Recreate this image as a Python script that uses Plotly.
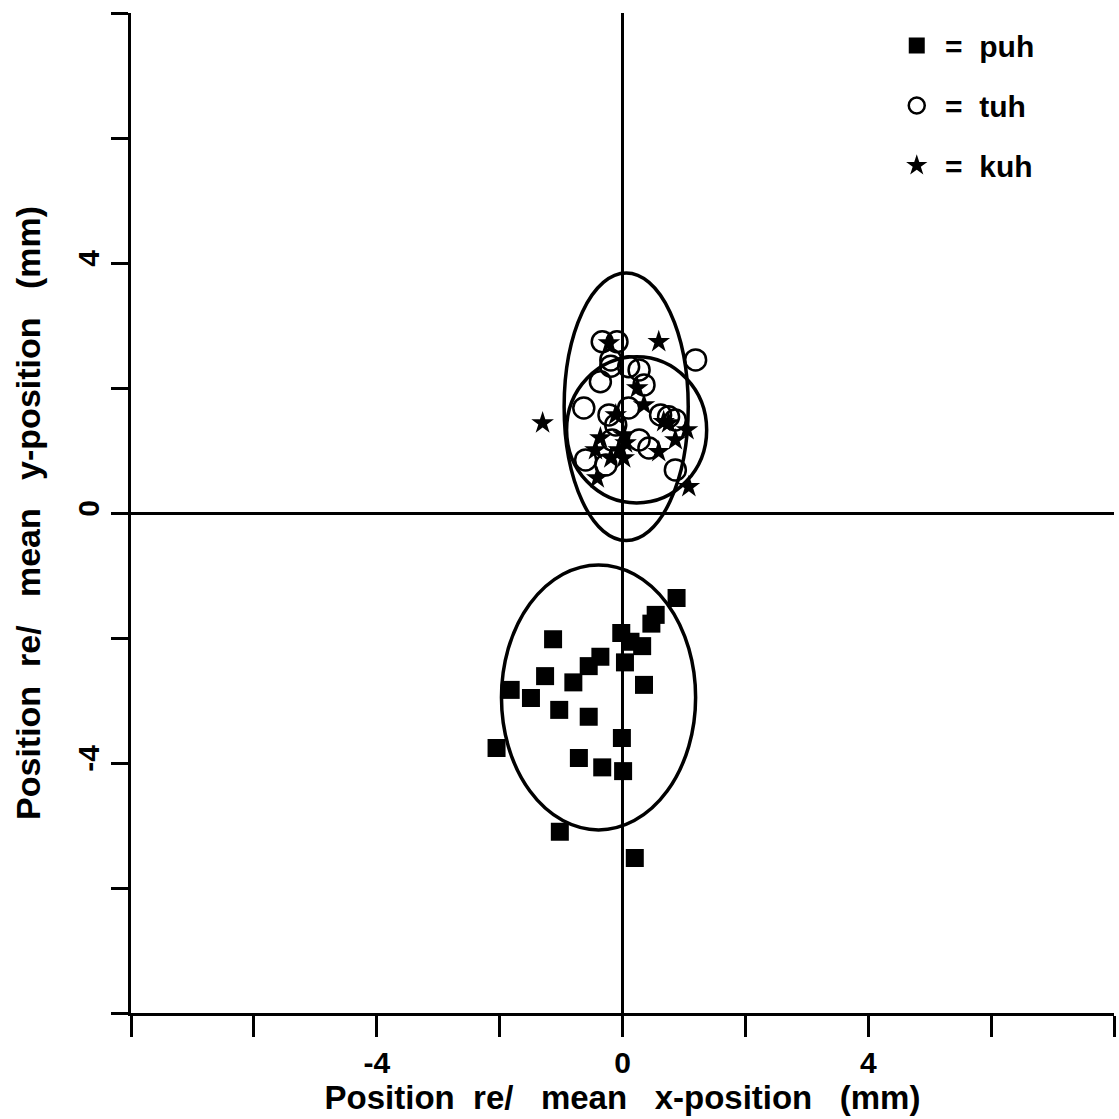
import plotly.graph_objects as go

# ---- data ----
puh_x = [0.88, 0.54, 0.47, -1.13, -0.02, 0.13, 0.32, -0.36, -0.55, 0.04, -1.26, -0.80,
         -1.82, -1.49, 0.35, -1.03, -0.55, -0.01, -2.05, -0.71, -0.33, 0.01, -1.02, 0.20]
puh_y = [-1.36, -1.63, -1.77, -2.02, -1.92, -2.06, -2.13, -2.30, -2.45, -2.39, -2.61, -2.71,
         -2.83, -2.96, -2.75, -3.15, -3.26, -3.60, -3.76, -3.92, -4.07, -4.13, -5.10, -5.52]

tuh_x = [-0.33, -0.09, -0.19, -0.19, 1.19, 0.10, 0.27, -0.36, 0.35, -0.63, -0.22, 0.10,
         0.62, 0.75, 0.86, -0.17, 0.27, 0.43, -0.60, -0.27, 0.86, -0.11]
tuh_y = [2.74, 2.74, 2.45, 2.35, 2.45, 2.34, 2.29, 2.10, 2.05, 1.68, 1.57, 1.68,
         1.57, 1.54, 1.49, 1.17, 1.17, 1.04, 0.85, 0.77, 0.69, 1.41]

kuh_x = [-0.22, 0.59, 0.24, -1.30, -0.11, 0.35, 0.67, 0.75, 1.05, 0.86, -0.36, 0.02,
         0.05, -0.06, 0.59, -0.44, -0.19, -0.41, 1.08, 0.02]
kuh_y = [2.72, 2.74, 2.00, 1.44, 1.57, 1.73, 1.46, 1.44, 1.33, 1.17, 1.20, 1.25,
         1.12, 1.01, 0.98, 1.01, 0.88, 0.56, 0.42, 0.88]

# ellipses: centre and semi-axes (mm)
ell_cx = [-0.39, 0.06, 0.23]
ell_cy = [-2.95, 1.70, 1.33]
ell_rx = [1.58, 1.01, 1.14]
ell_ry = [2.12, 2.14, 1.17]

tick_vals = [-8, -6, -4, -2, 0, 2, 4, 6, 8]
tick_text = ["", "", "-4", "", "0", "", "4", "", ""]

NB = "\u00a0"
G2 = NB * 2
G3 = NB * 3
x_title = f"Position{G2}re/{G3}mean{G3}x-position{G3}(mm)"
y_title = f"Position{G2}re/{G3}mean{G3}y-position{G3}(mm)"

FONT = "Liberation Sans, Arial, Helvetica, sans-serif"

fig = go.Figure()

fig.add_trace(go.Scatter(
    x=puh_x, y=puh_y, mode="markers", name=f"{NB}={G2}puh", legendgroup="a",
    marker=dict(symbol="square", size=18, color="black", line=dict(width=0)),
))
fig.add_trace(go.Scatter(
    x=tuh_x, y=tuh_y, mode="markers", name=f"{NB}={G2}tuh", legendgroup="b",
    marker=dict(symbol="circle-open", size=21, color="black", line=dict(width=2.5, color="black")),
))
fig.add_trace(go.Scatter(
    x=kuh_x, y=kuh_y, mode="markers", name=f"{NB}={G2}kuh", legendgroup="c",
    marker=dict(symbol="star", size=17, color="black", line=dict(width=0)),
))

for cx, cy, rx, ry in zip(ell_cx, ell_cy, ell_rx, ell_ry):
    fig.add_shape(type="circle", xref="x", yref="y",
                  x0=cx - rx, x1=cx + rx, y0=cy - ry, y1=cy + ry,
                  line=dict(color="black", width=3.5), layer="below")

fig.update_layout(
    width=1119, height=1119,
    margin=dict(l=131, r=5, t=13, b=106),
    paper_bgcolor="white", plot_bgcolor="white",
    font=dict(family=FONT, color="black", size=30, weight="bold"),
    showlegend=True,
    legend=dict(x=0.779, y=0.9935, xanchor="left", yanchor="top",
                bgcolor="rgba(0,0,0,0)", font=dict(size=30, family=FONT, weight="bold"),
                tracegroupgap=18, traceorder="grouped", itemsizing="trace"),
)

fig.update_xaxes(
    range=[-8, 8], tickvals=tick_vals, ticktext=tick_text,
    ticks="outside", ticklen=21, tickwidth=2.5, tickcolor="black",
    showline=True, linewidth=3, linecolor="black", mirror=False,
    showgrid=False, zeroline=True, zerolinecolor="black", zerolinewidth=2.5,
    tickfont=dict(size=30, family=FONT, weight="bold"),
    title=dict(text=x_title, font=dict(size=33, family=FONT, weight="bold"), standoff=2),
)
fig.update_yaxes(
    range=[-8, 8], tickvals=tick_vals, ticktext=tick_text, tickangle=-90,
    ticks="outside", ticklen=17, tickwidth=2.5, tickcolor="black",
    showline=True, linewidth=3, linecolor="black", mirror=False,
    showgrid=False, zeroline=True, zerolinecolor="black", zerolinewidth=2.5,
    tickfont=dict(size=30, family=FONT, weight="bold"),
    title=dict(text=y_title, font=dict(size=34, family=FONT, weight="bold"), standoff=22),
)

fig.write_html("out.html")
